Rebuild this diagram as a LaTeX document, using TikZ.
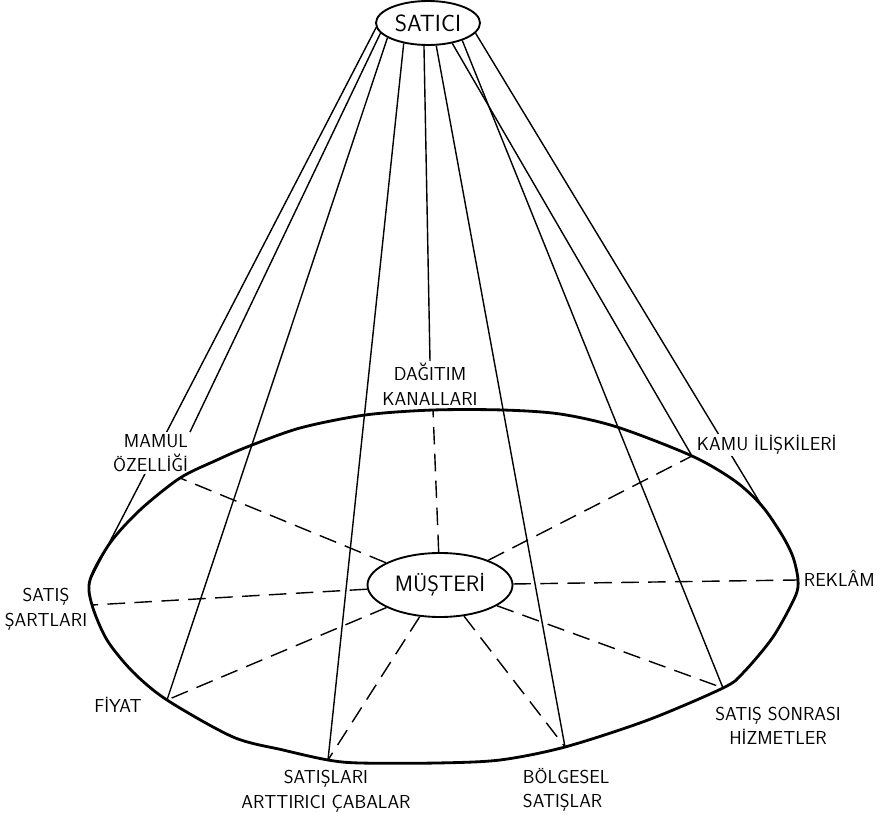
\documentclass[tikz,border=0pt]{standalone}
\usepackage{tikz}
\usetikzlibrary{shapes.geometric,backgrounds}
\tikzset{
  hub/.style   = {draw, ellipse, line width=1.6pt, inner sep=0pt},
  rim/.style   = {line width=2.4pt, line join=round},
  ray/.style   = {line width=1.2pt},
  spoke/.style = {line width=1.2pt, dash pattern=on 15pt off 8pt},
  lbl/.style   = {font=\fontsize{16}{21}\selectfont\sffamily, inner sep=1.5pt},
  mask/.style  = {lbl, fill=white},
}

\begin{document}
\begin{tikzpicture}[x=0.03cm, y=-0.03cm]
  \useasboundingbox (0,0) rectangle (886,823);
  \node[hub, minimum width=3.12cm, minimum height=1.32cm,
        font=\fontsize{20}{24}\selectfont\sffamily] (satici) at (428,23) {SATICI};
  \node[hub, minimum width=4.35cm, minimum height=1.92cm,
        font=\fontsize{19}{23}\selectfont\sffamily] (musteri) at (440,585) {MÜŞTERİ};

  \node[lbl, align=center] (dagitim) at (430,384) {DAĞITIM\\KANALLARI};
  \node[mask, align=right, anchor=east] (mamul) at (190,453) {MAMUL\\ÖZELLİĞİ};
  \node[mask, anchor=west] (kamu) at (695,445) {KAMU İLİŞKİLERİ};
  \node[lbl, anchor=west] (reklam) at (802,578) {REKLÂM};
  \node[lbl, align=center] (sartlar) at (46,609) {SATIŞ\\ŞARTLARI};
  \node[lbl] (fiyat) at (118,705) {FİYAT};
  \node[lbl, align=center] (satislari) at (326,791) {SATIŞLARI\\ARTTIRICI ÇABALAR};
  \node[lbl, align=left, anchor=west] (bolgesel) at (521,790) {BÖLGESEL\\SATIŞLAR};
  \node[lbl, align=center] (sonrasi) at (778,726) {SATIŞ SONRASI\\HİZMETLER};

  \coordinate (p-left) at (90,580);
  \coordinate (p-mamul) at (180,478);
  \coordinate (p-dagitim) at (433,410);
  \coordinate (p-kamu) at (692,456);
  \coordinate (p-right) at (762,506);
  \coordinate (p-reklam) at (798,580);
  \coordinate (p-sonrasi) at (723,688);
  \coordinate (p-bolgesel) at (565,747);
  \coordinate (p-satislari) at (328,760);
  \coordinate (p-fiyat) at (167,700);
  \coordinate (p-sartlar) at (92,605);

  \draw[rim] plot[smooth cycle] coordinates {(p-left) (110,543) (140,510) (p-mamul)
    (217,460) (247,447) (300,428) (365,415) (p-dagitim) (503,410) (560,414) (617,427)
    (p-kamu) (735,481) (p-right) (782,535) (793,557) (p-reklam) (795,597) (773,637)
    (743,673) (p-sonrasi) (648,720) (p-bolgesel) (500,760) (437,763)
    (360,763) (p-satislari) (283,750) (233,737) (p-fiyat) (133,672) (107,640) (p-sartlar)};

  \begin{scope}[on background layer]
    \draw[ray] (satici.185) -- (p-left);
    \draw[ray] (satici.192) -- (mamul.north east);
    \draw[ray] (satici.200) -- (p-fiyat);
    \draw[ray] (satici.220) -- (p-satislari);
    \draw[ray] (satici.260) -- (dagitim.north);
    \draw[ray] (satici.290) -- (p-bolgesel);
    \draw[ray] (satici.320) -- (p-kamu);
    \draw[ray] (satici.333) -- (p-sonrasi);
    \draw[ray] (satici.348) -- (p-right);
    \foreach \p in {dagitim,kamu,reklam,sonrasi,bolgesel,satislari,fiyat,sartlar,mamul}
      \draw[spoke] (musteri) -- (p-\p);
  \end{scope}
\end{tikzpicture}
\end{document}
